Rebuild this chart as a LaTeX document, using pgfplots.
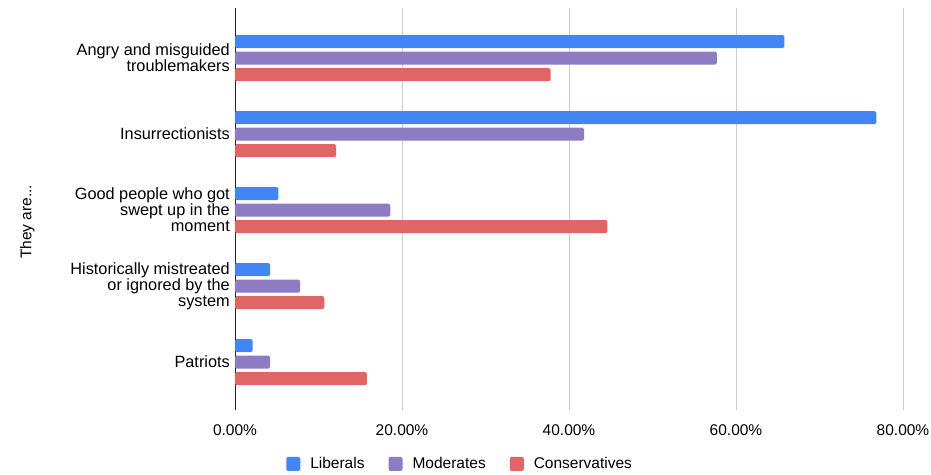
\documentclass[border=0pt]{standalone}
\usepackage{fontspec}
\setmainfont{Liberation Sans}
\usepackage{pgfplots}
\pgfplotsset{compat=1.18}
\definecolor{lib}{HTML}{4285F4}
\definecolor{mod}{HTML}{8E7CC3}
\definecolor{con}{HTML}{E06666}
\newcommand{\cf}{\fontsize{15.5}{16}\selectfont}
\newcommand{\lf}{\fontsize{16.3}{16}\selectfont}
\pgfplotsset{sqlegend/.style={legend image code/.code={\fill[#1] (0pt,-7pt) rectangle (14pt,7pt);}}}
\begin{document}
\begin{tikzpicture}
\path[use as bounding box] (-235pt,-64pt) rectangle (696pt,410pt);
\begin{axis}[
  scale only axis, width=668pt, height=402pt,
  xbar, xmin=0, xmax=80, ymin=-0.63, ymax=4.66,
  bar width=13pt,
  xtick={20,40,60,80},
  xticklabels={20.00\%,40.00\%,60.00\%,80.00\%},
  extra x ticks={0}, extra x tick labels={0.00\%},
  extra x tick style={grid style={draw=black!85, line width=0.9pt}},
  xmajorgrids, grid style={draw=black!20, line width=0.8pt},
  axis line style={draw=none}, major tick length=0pt,
  xticklabel style={font=\cf, yshift=-11pt},
  ytick={0,1,2,3,4},
  yticklabels={Patriots,{Historically mistreated\\or ignored by the\\system},{Good people who got\\swept up in the\\moment},Insurrectionists,{Angry and misguided\\troublemakers}},
  yticklabel style={align=right, font=\lf, inner sep=2pt, xshift=-3pt},
  ylabel={They are...},
  every axis y label/.style={at={(axis description cs:-0.311,0.468)}, anchor=center, rotate=90, font=\cf},
  legend style={at={(axis description cs:0.337,-0.134)}, anchor=center, draw=none, font=\cf, legend columns=3,
    /tikz/every even column/.append style={column sep=22pt},
    /tikz/every odd column/.append style={column sep=8pt}},
  sqlegend,
]
\addplot[fill=lib, draw=none, rounded corners=1.5pt, bar shift=16.5pt] coordinates {(2.1,0) (4.2,1) (5.2,2) (76.8,3) (65.8,4)};
\addlegendentry{Liberals}
\addplot[fill=mod, draw=none, rounded corners=1.5pt, bar shift=0pt] coordinates {(4.2,0) (7.8,1) (18.6,2) (41.8,3) (57.7,4)};
\addlegendentry{Moderates}
\addplot[fill=con, draw=none, rounded corners=1.5pt, bar shift=-16.5pt] coordinates {(15.8,0) (10.7,1) (44.6,2) (12.1,3) (37.8,4)};
\addlegendentry{Conservatives}
\end{axis}
\end{tikzpicture}
\end{document}
